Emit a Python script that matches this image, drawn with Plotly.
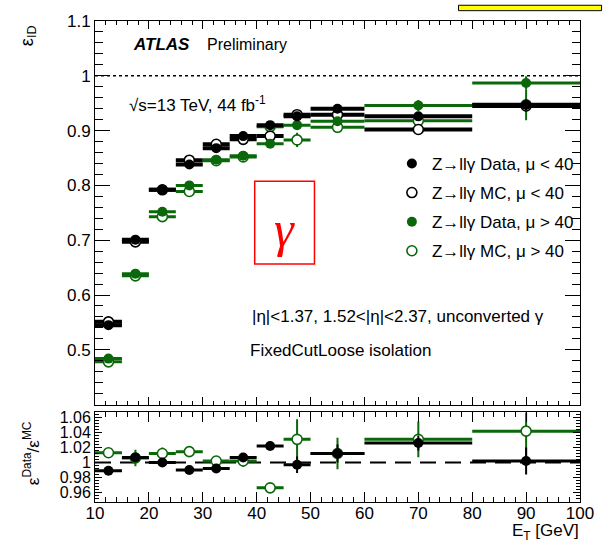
import plotly.graph_objects as go

# ---------------- data ----------------
et_centers = [12.5, 17.5, 22.5, 27.5, 32.5, 37.5, 42.5, 47.5, 55, 70, 90]
et_halfwidth = [2.5, 2.5, 2.5, 2.5, 2.5, 2.5, 2.5, 2.5, 5, 10, 10]

eff_data_lowmu = [0.545, 0.701, 0.792, 0.838, 0.868, 0.890, 0.910, 0.926, 0.940, 0.926, 0.947]
eff_mc_lowmu = [0.551, 0.697, 0.792, 0.846, 0.875, 0.884, 0.890, 0.929, 0.929, 0.902, 0.945]
eff_data_highmu = [0.484, 0.639, 0.752, 0.800, 0.847, 0.854, 0.876, 0.910, 0.917, 0.946, 0.987]
eff_mc_highmu = [0.478, 0.635, 0.743, 0.789, 0.845, 0.852, 0.907, 0.883, 0.906, 0.918, 0.947]

err_data_lowmu = [0.002, 0.002, 0.002, 0.002, 0.002, 0.002, 0.002, 0.003, 0.004, 0.006, 0.010]
err_mc_lowmu = [0.002, 0.002, 0.002, 0.002, 0.002, 0.002, 0.002, 0.003, 0.004, 0.006, 0.010]
err_data_highmu = [0.003, 0.003, 0.003, 0.003, 0.003, 0.003, 0.003, 0.006, 0.008, 0.010, 0.012]
err_mc_highmu = [0.003, 0.003, 0.003, 0.003, 0.003, 0.003, 0.004, 0.013, 0.010, 0.014, 0.028]

sf_lowmu = [0.989, 1.0066, 1.000, 0.990, 0.992, 1.0066, 1.022, 0.997, 1.012, 1.026, 1.002]
sf_highmu = [1.013, 1.006, 1.012, 1.0145, 1.002, 1.002, 0.966, 1.031, 1.012, 1.031, 1.042]
sf_err_lowmu = [0.003, 0.004, 0.003, 0.003, 0.003, 0.004, 0.004, 0.011, 0.012, 0.010, 0.018]
sf_err_highmu = [0.004, 0.011, 0.008, 0.005, 0.005, 0.008, 0.006, 0.027, 0.021, 0.024, 0.035]

labels = ["Z\u2192ll\u03b3 Data, \u03bc < 40", "Z\u2192ll\u03b3 MC, \u03bc < 40",
          "Z\u2192ll\u03b3 Data, \u03bc > 40", "Z\u2192ll\u03b3 MC, \u03bc > 40"]

main_ytickvals = [0.5, 0.6, 0.7, 0.8, 0.9, 1.0, 1.1]
main_yticktext = ["0.5", "0.6", "0.7", "0.8", "0.9", "1", "1.1"]
ratio_ytickvals = [0.96, 0.98, 1.0, 1.02, 1.04, 1.06]
ratio_yticktext = ["0.96", "0.98", "1", "1.02", "1.04", "1.06"]
xtickvals = [10, 20, 30, 40, 50, 60, 70, 80, 90, 100]

# ---------------- style ----------------
W, H = 606, 545
ML, MR, MT, MB = 95, 16, 13, 43
PW, PH = W - ML - MR, H - MT - MB
BLACK = "#000000"
GREEN = "#0a680a"
FONT = "Liberation Sans, Arial, Helvetica, sans-serif"


def px(x, y):
    return (x - ML) / PW, (H - MB - y) / PH


main_bottom_px, ratio_top_px = 403, 411
main_domain = [(H - MB - main_bottom_px) / PH, 1.0]
ratio_domain = [0.0, (H - MB - ratio_top_px) / PH]

fig = go.Figure()


def add_series(x, y, ey, color, filled, hthick, name, rank, xa, ya, showlegend):
    marker = dict(symbol="circle", size=10, color=color) if filled else \
        dict(symbol="circle", size=10, color="white", line=dict(color=color, width=1.6))
    fig.add_trace(go.Scatter(
        x=x, y=y, mode="markers", name=name, legendrank=rank,
        legendgroup=name, showlegend=showlegend,
        marker=marker,
        error_x=dict(type="data", array=et_halfwidth, symmetric=True,
                     color=color, thickness=hthick, width=0),
        error_y=dict(type="data", array=ey, symmetric=True,
                     color=color, thickness=2, width=0),
        xaxis=xa, yaxis=ya, cliponaxis=True,
    ))


# main panel
add_series(et_centers, eff_mc_highmu, err_mc_highmu, GREEN, False, 3, labels[3], 4, "x", "y", True)
add_series(et_centers, eff_mc_lowmu, err_mc_lowmu, BLACK, False, 4, labels[1], 2, "x", "y", True)
add_series(et_centers, eff_data_highmu, err_data_highmu, GREEN, True, 3, labels[2], 3, "x", "y", True)
add_series(et_centers, eff_data_lowmu, err_data_lowmu, BLACK, True, 4, labels[0], 1, "x", "y", True)

# ratio panel
add_series(et_centers, sf_highmu, sf_err_highmu, GREEN, False, 3, "ratio_high", 10, "x2", "y2", False)
add_series(et_centers, sf_lowmu, sf_err_lowmu, BLACK, True, 3, "ratio_low", 11, "x2", "y2", False)

# reference lines
fig.add_shape(type="line", xref="x", yref="y", x0=10, x1=100, y0=1.0, y1=1.0,
              line=dict(color="black", width=1.5, dash="dot"), layer="below")
fig.add_shape(type="line", xref="x2", yref="y2", x0=10, x1=100, y0=1.0, y1=1.0,
              line=dict(color="black", width=2, dash="16px,9px"), layer="below")

axis_common = dict(showline=True, linecolor="black", linewidth=1, mirror="allticks",
                   ticks="inside", tickcolor="black", showgrid=False, zeroline=False,
                   tickfont=dict(size=17, color="black", family=FONT))

fig.update_layout(
    xaxis=dict(domain=[0, 1], range=[10, 100], tickvals=xtickvals, showticklabels=False,
               ticklen=8, minor=dict(dtick=2, ticklen=4, ticks="inside", tickcolor="black"),
               anchor="y", **axis_common),
    yaxis=dict(domain=main_domain, range=[0.40, 1.1], tickvals=main_ytickvals,
               ticktext=main_yticktext, ticklen=15,
               minor=dict(dtick=0.02, tick0=0.4, ticklen=8, ticks="inside", tickcolor="black"),
               anchor="x", **axis_common),
    xaxis2=dict(domain=[0, 1], range=[10, 100], tickvals=xtickvals, ticklen=10,
                ticklabelstandoff=-4,
                minor=dict(dtick=2, ticklen=5, ticks="inside", tickcolor="black"),
                anchor="y2", **axis_common),
    yaxis2=dict(domain=ratio_domain, range=[0.947, 1.067], tickvals=ratio_ytickvals,
                ticktext=ratio_yticktext, ticklen=7,
                minor=dict(dtick=0.004, tick0=0.94, ticklen=4, ticks="inside", tickcolor="black"),
                anchor="x2", **axis_common),
)
fig.update_yaxes(tickfont=dict(size=16), selector=dict(anchor="x2"))

# legend
lx, ly = px(398, 140)
fig.update_layout(
    showlegend=True,
    legend=dict(x=lx, y=ly, xanchor="left", yanchor="top", bgcolor="rgba(0,0,0,0)",
                font=dict(size=17, color="black", family=FONT),
                traceorder="grouped", tracegroupgap=4, itemwidth=30),
)

annotations = []


def text(x, y, s, size=17, color="black", xanchor="left", family=FONT, angle=0, yanchor="middle"):
    ax, ay = px(x, y)
    annotations.append(dict(x=ax, y=ay, xref="paper", yref="paper", text=s, showarrow=False,
                            xanchor=xanchor, yanchor=yanchor, textangle=angle,
                            font=dict(size=size, color=color, family=family)))


text(132, 37, "<b><i>ATLAS</i></b>", size=17)
text(207, 37, "Preliminary", size=16)
text(128, 97, "\u221as=13 TeV, 44 fb<sup>-1</sup>", size=17)
text(253, 313, "|\u03b7|<1.37, 1.52<|\u03b7|<2.37, unconverted \u03b3", size=17)
text(251, 348, "FixedCutLoose isolation", size=17)
text(288, 224, "<i>\u03b3</i>", size=50, color="red", xanchor="center", family="Liberation Serif, serif")
text(591, 546, "E<sub>T</sub> [GeV]", size=17, xanchor="right", yanchor="bottom")
text(27, 28, "\u03b5<sub>ID</sub>", size=18, xanchor="center", angle=-90)
text(30, 452, "\u03b5<sup>Data</sup>/\u03b5<sup>MC</sup>", size=17, xanchor="center", angle=-90)

# red box around gamma
bx0, by0 = px(258, 260)
bx1, by1 = px(319, 176)
fig.add_shape(type="rect", xref="paper", yref="paper", x0=bx0, x1=bx1, y0=by0, y1=by1,
              line=dict(color="red", width=1.5))

# yellow box partially visible at the top right
yx0, yy0 = px(466, 2.5)
yx1, yy1 = px(612, -3)
fig.add_shape(type="rect", xref="paper", yref="paper", x0=yx0, x1=yx1, y0=yy0, y1=yy1,
              fillcolor="#ffff00", line=dict(color="black", width=1))

fig.update_layout(
    width=W, height=H, margin=dict(l=ML, r=MR, t=MT, b=MB),
    paper_bgcolor="white", plot_bgcolor="white",
    font=dict(family=FONT, color="black"),
    annotations=annotations,
)

fig.write_html("out.html", config={"displayModeBar": False},
               post_script="document.body.style.margin='0';document.body.style.padding='0';"
                           "document.body.style.overflow='hidden';")
